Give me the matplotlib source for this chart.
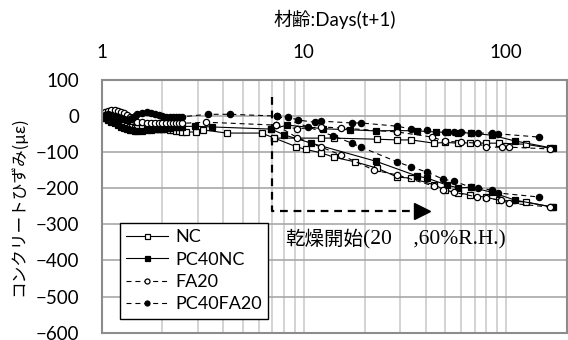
import matplotlib
matplotlib.use("Agg")
import matplotlib.pyplot as plt

plt.rcParams['font.family'] = ['Lato', 'Noto Sans CJK JP', 'DejaVu Sans']

# early age readings (t+1 days), shared by all mixes
t_early = [1.00, 1.04, 1.08, 1.12, 1.17, 1.21, 1.25, 1.29, 1.33, 1.38, 1.42, 1.46, 1.50,
           1.58, 1.67, 1.75, 1.83, 1.92, 2.00, 2.08, 2.17, 2.25, 2.33, 2.42, 2.50]

nc_early = [-3, -6, -8, -11, -14, -18, -22, -26, -28, -30, -31, -32, -33,
            -34, -35, -35, -36, -36, -36, -37, -38, -39, -41, -42, -44]
pc40nc_early = [-3, -5, -10, -15, -20, -25, -30, -34, -37, -38, -39, -40, -40,
                -40, -39, -38, -37, -36, -35, -34, -32, -31, -30, -30, -29]
fa20_early = [5, 10, 14, 16, 17, 15, 12, 8, 3, -3, -8, -12, -15,
              -17, -18, -19, -19, -20, -20, -19, -19, -20, -20, -19, -20]
pc40fa20_early = [0, 3, 5, 3, 0, -3, -6, -8, -10, -8, -5, 0, 5,
                  8, 10, 8, 5, 3, 0, -2, -3, -3, -2, -3, -2]

# sparse readings up to start of drying
nc_t2 = [2.61, 2.92, 3.16, 4.15, 6.18, 7.16]
nc_v2 = [-44, -44, -38, -47, -47, -61]
pc40nc_t2 = [2.9, 3.5, 6.9]
pc40nc_v2 = [-28, -30, -36]
fa20_t2 = [3.3, 7.3]
fa20_v2 = [-17, -25]
pc40fa20_t2 = [3.35, 4.34, 7.4]
pc40fa20_v2 = [5, 5, 0]

# sealed specimens
nc_seal_t = [12.2, 14.1, 23, 29, 34, 44, 50, 58, 66, 80, 92, 125, 165]
nc_seal_v = [-61, -61, -64, -66, -66, -75, -73, -75, -74, -75, -75, -78, -89]
pc40nc_seal_t = [8.3, 12.5, 17, 22.7, 29, 36.3, 45, 51, 58, 67, 85, 111, 171]
pc40nc_seal_v = [-25, -35, -38, -41, -40, -41, -44, -45, -46, -47, -53, -69, -89]
fa20_seal_t = [9.3, 12.2, 15.3, 29, 43, 50, 60, 72, 80, 95, 103, 165]
fa20_seal_v = [-35, -30, -33, -44, -58, -70, -72, -75, -86, -86, -86, -91]
pc40fa20_seal_t = [8.4, 9.4, 11.3, 12.2, 17.3, 19.2, 29, 34, 40.6, 50, 55, 60, 67, 73, 85, 91, 145]
pc40fa20_seal_v = [-3, -11, -17, -14, -19, -19, -28, -36, -39, -44, -44, -44, -46, -47, -47, -49, -58]

# drying specimens (20C, 60%R.H.)
nc_dry_t = [7.16, 9.2, 10.2, 12.2, 14.1, 18, 23, 29, 34, 44, 50, 58, 66, 80, 92, 125, 168]
nc_dry_v = [-61, -85, -92, -102, -114, -127, -144, -169, -172, -190, -205, -213, -218, -225, -233, -238, -252]
pc40nc_dry_t = [6.9, 8.0, 10.9, 22.7, 36.3, 40.8, 51, 58, 67, 85, 111, 171]
pc40nc_dry_v = [-36, -52, -75, -125, -166, -172, -191, -199, -197, -211, -233, -252]
fa20_dry_t = [7.3, 9.3, 12.2, 15.3, 22.3, 29, 44, 49, 55, 72, 80, 94, 103, 165]
fa20_dry_v = [-25, -60, -86, -108, -150, -163, -194, -205, -211, -224, -227, -233, -241, -252]
pc40fa20_dry_t = [7.4, 10.5, 14, 17.3, 19.2, 29, 34, 40.6, 49, 55, 67, 73, 85, 91, 145]
pc40fa20_dry_v = [0, -30, -55, -75, -86, -127, -141, -155, -175, -180, -197, -199, -205, -213, -224]

series = [
    ('NC', 's', 'white', '-', nc_early, nc_t2, nc_v2, nc_seal_t, nc_seal_v, nc_dry_t, nc_dry_v),
    ('PC40NC', 's', 'black', '-', pc40nc_early, pc40nc_t2, pc40nc_v2,
     pc40nc_seal_t, pc40nc_seal_v, pc40nc_dry_t, pc40nc_dry_v),
    ('FA20', 'o', 'white', '--', fa20_early, fa20_t2, fa20_v2,
     fa20_seal_t, fa20_seal_v, fa20_dry_t, fa20_dry_v),
    ('PC40FA20', 'o', 'black', '--', pc40fa20_early, pc40fa20_t2, pc40fa20_v2,
     pc40fa20_seal_t, pc40fa20_seal_v, pc40fa20_dry_t, pc40fa20_dry_v),
]

fig = plt.figure(figsize=(5.68, 3.40), dpi=100)
ax = fig.add_axes([0.1787, 0.0215, 0.8195, 0.7432])

for name, mk, fc, ls, early, t2, v2, st, sv, dt, dv in series:
    kw = dict(color='black', marker=mk, markerfacecolor=fc, markeredgecolor='black',
              markersize=4.5, markeredgewidth=0.9, linewidth=0.8, linestyle=ls)
    if ls == '--':
        kw['dashes'] = (4.5, 3.5)
    ax.plot(t_early + t2 + st, early + v2 + sv, label=name, **kw)
    ax.plot(dt, dv, **kw)

# start of drying
ax.plot([7, 7, 35], [52, -263, -263], color='black', lw=1.6, dashes=(3.5, 2.6))
ax.plot([38.4], [-263], marker='>', color='black', markersize=11, linestyle='none')
ax.text(8.07, -343, '乾燥開始', fontsize=14, va='center', ha='left',
        family=['Noto Sans CJK JP', 'DejaVu Sans'])
ax.text(19.6, -343, '(20    ,60%R.H.)', fontsize=15.5, va='center', ha='left',
        family=['Liberation Serif', 'DejaVu Serif'])

ax.set_xscale('log')
ax.set_xlim(1, 200)
ax.set_ylim(-600, 100)
ax.set_yticks(range(-600, 101, 100))
ax.set_xticks([1, 10, 100])
ax.set_xticklabels(['1', '10', '100'])
ax.xaxis.tick_top()
ax.tick_params(axis='x', which='both', length=0, pad=14, labelsize=13.5)
ax.tick_params(axis='y', length=0, pad=16, labelsize=13.5)
ax.grid(True, which='major', axis='y', color='#a8a8a8', lw=1.2)
ax.grid(True, which='both', axis='x', color='#cccccc', lw=1.2)
ax.set_axisbelow(True)
for s in ax.spines.values():
    s.set_color('#8c8c8c')
    s.set_linewidth(1.5)

fig.text(0.59, 0.942, '材齢:Days(t+1)', fontsize=13.5, ha='center', va='center')
fig.text(0.032, 0.395, 'コンクリートひずみ(με)', fontsize=12, rotation=90,
         ha='center', va='center', family=['Noto Sans CJK JP', 'DejaVu Sans'])

leg = ax.legend(loc='lower left', bbox_to_anchor=(0.02, 0.02), fontsize=13,
                frameon=True, fancybox=False, edgecolor='black', framealpha=1,
                handlelength=2.3, labelspacing=0.35, borderpad=0.35, handletextpad=0.4,
                markerscale=0.8)
leg.get_frame().set_linewidth(1.0)

fig.savefig('out.png', dpi=100)
